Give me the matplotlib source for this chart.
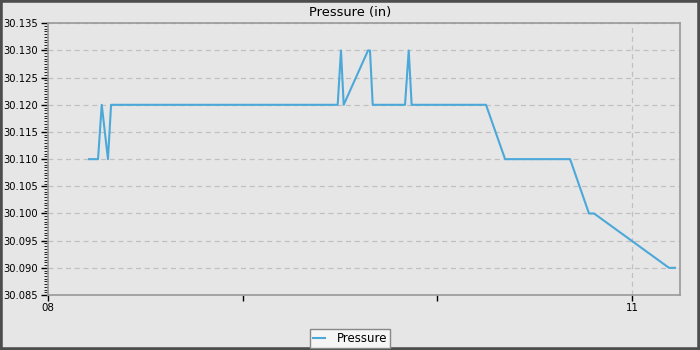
import matplotlib
matplotlib.use('Agg')
import matplotlib.pyplot as plt
from matplotlib.patches import Rectangle
from matplotlib.ticker import MultipleLocator, FixedLocator

# Pressure readings (hours since midnight, inches of mercury)
hours = [8.211, 8.257, 8.276, 8.308, 8.324, 9.488, 9.505, 9.519, 9.644,
         9.654, 9.668, 9.834, 9.853, 9.868, 10.250, 10.348, 10.682,
         10.779, 10.805, 11.190, 11.221]
pressure = [30.110, 30.110, 30.120, 30.110, 30.120, 30.120, 30.130, 30.120,
            30.130, 30.130, 30.120, 30.120, 30.130, 30.120, 30.120, 30.110,
            30.110, 30.100, 30.100, 30.090, 30.090]
x_ticks = [8, 9, 10, 11]
x_tick_labels = ['08', '', '', '11']

bg = '#e6e6e6'
fig = plt.figure(figsize=(7, 3.5), dpi=100, facecolor=bg)
ax = fig.add_axes([48 / 700, 1 - 295 / 350, 632 / 700, 271.7 / 350])
ax.set_facecolor(bg)

ax.plot(hours, pressure, color='#4ba8d9', lw=1.5, label='Pressure')

ax.set_xlim(8, 11.2465)
ax.set_ylim(30.085, 30.135)
ax.xaxis.set_major_locator(FixedLocator(x_ticks))
ax.set_xticklabels(x_tick_labels)
ax.yaxis.set_major_locator(MultipleLocator(0.005))
ax.yaxis.set_minor_locator(MultipleLocator(0.0005))
ax.yaxis.set_major_formatter(matplotlib.ticker.FormatStrFormatter('%.3f'))

ax.tick_params(axis='y', which='major', length=5, width=1, labelsize=7.2, pad=2)
ax.tick_params(axis='y', which='minor', length=3, width=0.6)
ax.tick_params(axis='x', which='major', length=4, width=1, labelsize=7.4, pad=2)
for s in ax.spines.values():
    s.set_color('#999999')
    s.set_linewidth(1.2)

ax.grid(axis='y', which='major', color='#c0c0c0', linestyle=(0, (4, 3)), lw=0.9)
ax.axvline(11, color='#c0c0c0', linestyle=(0, (4, 3)), lw=0.9, zorder=0.5)

fig.text(0.5, 1 - 12.5 / 350, 'Pressure (in)', fontsize=9.4,
         ha='center', va='center')

leg = fig.legend(loc='upper center', bbox_to_anchor=(0.5, 1 - 329 / 350),
                 fontsize=8.5, frameon=True, fancybox=False, handlelength=1.0,
                 borderpad=0.25, handletextpad=1.0, borderaxespad=0)
leg.get_frame().set_facecolor('#f5f5f5')
leg.get_frame().set_edgecolor('#888888')
leg.get_frame().set_linewidth(1.0)
leg.get_frame().set_alpha(1)

fig.patches.append(Rectangle((0, 0), 1, 1, transform=fig.transFigure,
                             fill=False, edgecolor='#4d4d4d', lw=4))

fig.savefig('out.png', dpi=100, facecolor=bg)
